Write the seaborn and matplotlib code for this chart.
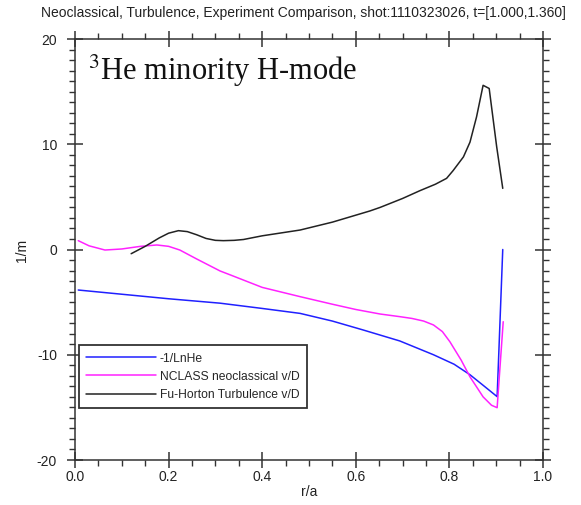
import numpy as np
import pandas as pd
import matplotlib
matplotlib.use("Agg")
import matplotlib.pyplot as plt
from matplotlib.ticker import MultipleLocator, FormatStrFormatter
import seaborn as sns

# Radial profiles (r/a) of the He-3 gradient and pinch terms, in 1/m
r_ln = [0.007, 0.1, 0.2, 0.31, 0.4, 0.481, 0.55, 0.616, 0.694, 0.766, 0.81, 0.844, 0.872, 0.902, 0.914]
inv_ln = [-3.85, -4.25, -4.68, -5.1, -5.6, -6.07, -6.8, -7.65, -8.69, -10.0, -10.9, -11.9, -12.9, -13.98, 0.0]

r_nc = [0.007, 0.03, 0.064, 0.1, 0.14, 0.175, 0.2, 0.224, 0.26, 0.31, 0.331, 0.4, 0.481,
        0.55, 0.6, 0.652, 0.694, 0.72, 0.745, 0.766, 0.785, 0.801, 0.825, 0.844, 0.872,
        0.89, 0.902, 0.915]
nclass = [0.84, 0.35, -0.05, 0.05, 0.3, 0.43, 0.3, -0.05, -0.9, -2.04, -2.4, -3.6, -4.48,
          -5.2, -5.7, -6.13, -6.38, -6.55, -6.8, -7.17, -7.8, -8.76, -10.5, -12.1, -14.0,
          -14.8, -15.03, -6.86]

r_fh = [0.12, 0.15, 0.18, 0.2, 0.221, 0.24, 0.26, 0.28, 0.3, 0.317, 0.34, 0.36, 0.4, 0.481,
        0.55, 0.63, 0.652, 0.7, 0.737, 0.77, 0.794, 0.808, 0.83, 0.844, 0.858, 0.872,
        0.885, 0.901, 0.914]
fuhorton = [-0.4, 0.3, 1.1, 1.55, 1.79, 1.7, 1.4, 1.05, 0.87, 0.84, 0.87, 0.95, 1.3, 1.85,
            2.6, 3.66, 4.0, 4.85, 5.59, 6.2, 6.76, 7.5, 8.8, 10.2, 12.6, 15.6,
            15.3, 9.77, 5.81]

series_names = ["-1/LnHe", "NCLASS neoclassical v/D", "Fu-Horton Turbulence v/D"]
series_colors = ["#2020ff", "#ff22ff", "#222222"]

title = "Neoclassical, Turbulence, Experiment Comparison, shot:1110323026, t=[1.000,1.360]"
annotation = r"$^{3}$He minority H-mode"

df = pd.concat([
    pd.DataFrame({"r": r_ln, "v": inv_ln, "series": series_names[0]}),
    pd.DataFrame({"r": r_nc, "v": nclass, "series": series_names[1]}),
    pd.DataFrame({"r": r_fh, "v": fuhorton, "series": series_names[2]}),
], ignore_index=True)

sns.set_style("ticks")
plt.rcParams["font.family"] = ["Liberation Sans", "DejaVu Sans"]
plt.rcParams["mathtext.fontset"] = "stix"
plt.rcParams["axes.unicode_minus"] = False

fig = plt.figure(figsize=(5.81, 5.05), dpi=100)
ax = fig.add_axes([75 / 581, 1 - 460 / 505, 468 / 581, 421 / 505])

sns.lineplot(data=df, x="r", y="v", hue="series", hue_order=series_names,
             palette=dict(zip(series_names, series_colors)), estimator=None,
             sort=True, linewidth=1.1, ax=ax)

ax.set_xlim(0, 1)
ax.set_ylim(-20, 20)
ax.xaxis.set_major_locator(MultipleLocator(0.2))
ax.xaxis.set_minor_locator(MultipleLocator(0.05))
ax.yaxis.set_major_locator(MultipleLocator(10))
ax.yaxis.set_minor_locator(MultipleLocator(1))
ax.xaxis.set_major_formatter(FormatStrFormatter("%.1f"))

spine_col = "#333333"
for s in ax.spines.values():
    s.set_visible(True)
    s.set_color(spine_col)
    s.set_linewidth(1.1)

ax.tick_params(which="both", top=True, right=True, color=spine_col, labelcolor="#222222",
               labelsize=10)
ax.tick_params(which="major", direction="inout", length=12, width=1.1)
ax.tick_params(which="minor", direction="out", length=4, width=1.0)
ax.tick_params(axis="x", which="major", pad=1)
ax.tick_params(axis="y", which="major", pad=7)

ax.set_xlabel("")
ax.set_ylabel("")
fig.text(309 / 581, 1 - 492 / 505, "r/a", ha="center", va="center", fontsize=10, color="#222222")
fig.text(22 / 581, 1 - 250 / 505, "1/m", ha="center", va="center", rotation=90,
         fontsize=10, color="#222222")
fig.text(303.5 / 581, 1 - 17 / 505, title, ha="center", va="baseline", fontsize=10,
         color="#222222")

ax.text(0.028, 16.1, annotation, fontsize=22, family=["Liberation Serif", "DejaVu Serif"],
        ha="left", va="baseline", color="#111111")

handles, labels = ax.get_legend_handles_labels()
leg = ax.legend(handles, labels, loc="lower left", bbox_to_anchor=(0.0085, 0.1235),
                borderaxespad=0, fontsize=8.7, frameon=True, fancybox=False,
                handlelength=5.8, handletextpad=0.3, labelspacing=0.5,
                borderpad=0.6)
leg.get_frame().set_edgecolor(spine_col)
leg.get_frame().set_linewidth(1.3)
leg.get_frame().set_facecolor("white")
leg.get_frame().set_alpha(1)

fig.savefig("out.png", dpi=100)
